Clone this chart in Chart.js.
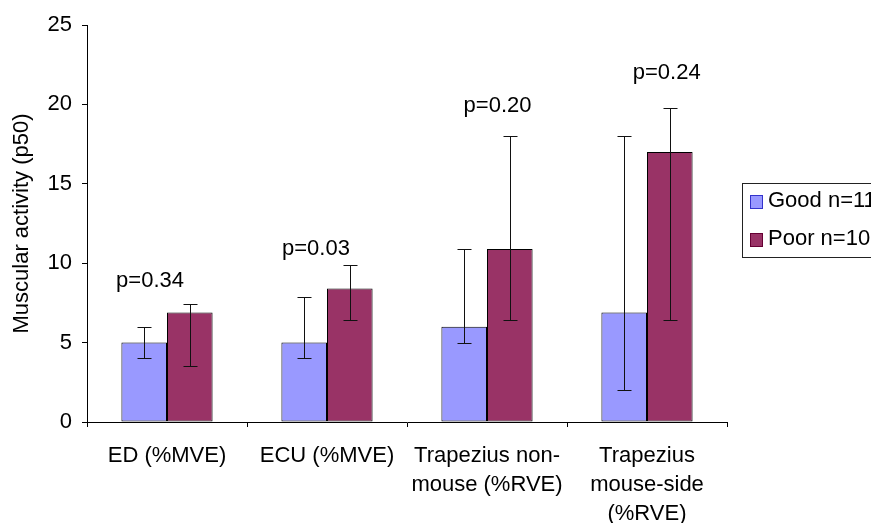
<!DOCTYPE html>
<html>
<head>
<meta charset="utf-8">
<script src="https://cdn.jsdelivr.net/npm/chart.js@4.4.1/dist/chart.umd.min.js"></script>
<style>
  html, body { margin: 0; padding: 0; background: #fff; }
  canvas { display: block; }
</style>
</head>
<body>
<canvas id="c" width="871" height="523"></canvas>
<script>
// ---- Data ----
const categories = [
  ['ED (%MVE)'],
  ['ECU (%MVE)'],
  ['Trapezius non-', 'mouse (%RVE)'],
  ['Trapezius', 'mouse-side', '(%RVE)']
];
const seriesNames = ['Good n=11', 'Poor n=10'];
const goodValues = [5.0, 5.0, 6.0, 6.9];
const poorValues = [6.9, 8.4, 10.9, 17.0];
const goodErrLow = [4.0, 4.0, 5.0, 2.0];
const goodErrHigh = [6.0, 7.9, 10.9, 18.0];
const poorErrLow = [3.5, 6.4, 6.4, 6.4];
const poorErrHigh = [7.4, 9.9, 18.0, 19.8];
const pLabels = ['p=0.34', 'p=0.03', 'p=0.20', 'p=0.24'];
const pLabelY = [9.0, 11.0, 20.0, 22.1];
const pLabelDx = [-0.106, -0.069, 0.066, 0.123];
const yTicks = [0, 5, 10, 15, 20, 25];

const goodColor = '#9999FF';
const poorColor = '#993366';
const FONT = '"Liberation Sans", Arial, sans-serif';
const FS = 22;

const errorBars = {
  id: 'errorBars',
  afterDatasetsDraw(chart) {
    const ctx = chart.ctx;
    const ys = chart.scales.y;
    const lows = [goodErrLow, poorErrLow];
    const highs = [goodErrHigh, poorErrHigh];
    ctx.save();
    ctx.strokeStyle = '#111';
    ctx.lineWidth = 1;
    chart.data.datasets.forEach((ds, di) => {
      const meta = chart.getDatasetMeta(di);
      meta.data.forEach((bar, i) => {
        const x = Math.round(bar.x) + 0.5;
        const y1 = Math.round(ys.getPixelForValue(lows[di][i])) + 0.5;
        const y2 = Math.round(ys.getPixelForValue(highs[di][i])) + 0.5;
        ctx.beginPath();
        ctx.moveTo(x, y1); ctx.lineTo(x, y2);
        ctx.moveTo(x - 7, y1); ctx.lineTo(x + 7, y1);
        ctx.moveTo(x - 7, y2); ctx.lineTo(x + 7, y2);
        ctx.stroke();
      });
    });
    ctx.restore();
  }
};

const annotations = {
  id: 'annotations',
  afterDraw(chart) {
    const ctx = chart.ctx;
    const xs = chart.scales.x, ys = chart.scales.y;
    ctx.save();
    ctx.fillStyle = '#000';
    ctx.font = FS + 'px ' + FONT;
    ctx.textAlign = 'center';
    ctx.textBaseline = 'alphabetic';
    const catW = xs.getPixelForValue(1) - xs.getPixelForValue(0);
    pLabels.forEach((t, i) => {
      const x = xs.getPixelForValue(i) + pLabelDx[i] * catW;
      const y = ys.getPixelForValue(pLabelY[i]) + FS * 0.36;
      ctx.fillText(t, x, y);
    });
    // legend
    ctx.strokeStyle = '#222';
    ctx.lineWidth = 1;
    ctx.strokeRect(742.5, 183.5, 200, 74);
    const colors = [goodColor, poorColor];
    const borders = ['#3333CC', '#660033'];
    const rowY = [202, 240];
    ctx.textAlign = 'left';
    seriesNames.forEach((n, i) => {
      ctx.fillStyle = colors[i];
      ctx.fillRect(751, rowY[i] - 6, 11, 12);
      ctx.strokeStyle = borders[i];
      ctx.strokeRect(750.5, rowY[i] - 6.5, 12, 13);
      ctx.fillStyle = '#000';
      ctx.fillText(n, 768, rowY[i] + 5);
    });
    ctx.restore();
  }
};

new Chart(document.getElementById('c'), {
  type: 'bar',
  data: {
    labels: categories,
    datasets: [
      { label: seriesNames[0], data: goodValues, backgroundColor: goodColor,
        borderColor: '#000', borderWidth: 1, borderSkipped: false, barPercentage: 1, categoryPercentage: 0.57 },
      { label: seriesNames[1], data: poorValues, backgroundColor: poorColor,
        borderColor: '#000', borderWidth: 1, borderSkipped: false, barPercentage: 1, categoryPercentage: 0.57 }
    ]
  },
  options: {
    responsive: false,
    animation: false,
    events: [],
    layout: { padding: { left: 0, right: 144, top: 25, bottom: 0 } },
    plugins: { legend: { display: false }, tooltip: { enabled: false } },
    scales: {
      x: {
        afterFit(s) { s.height = 101; },
        grid: { display: true, drawOnChartArea: false, drawTicks: true, tickLength: 5, color: '#000', offset: true },
        border: { display: true, color: '#000', width: 1 },
        ticks: { color: '#000', font: { family: FONT, size: FS, lineHeight: 1.32 }, padding: 14, maxRotation: 0, autoSkip: false }
      },
      y: {
        min: 0, max: 25,
        afterFit(s) { s.width = 87; },
        afterBuildTicks(s) { s.ticks = yTicks.map(v => ({ value: v })); },
        grid: { display: true, drawOnChartArea: false, drawTicks: true, tickLength: 5, color: '#000' },
        border: { display: true, color: '#000', width: 1 },
        ticks: { color: '#000', font: { family: FONT, size: FS }, padding: 10 },
        title: { display: true, text: 'Muscular activity (p50)', color: '#000',
                 font: { family: FONT, size: FS }, padding: { top: 9, bottom: 0 } }
      }
    }
  },
  plugins: [errorBars, annotations]
});
</script>
</body>
</html>
